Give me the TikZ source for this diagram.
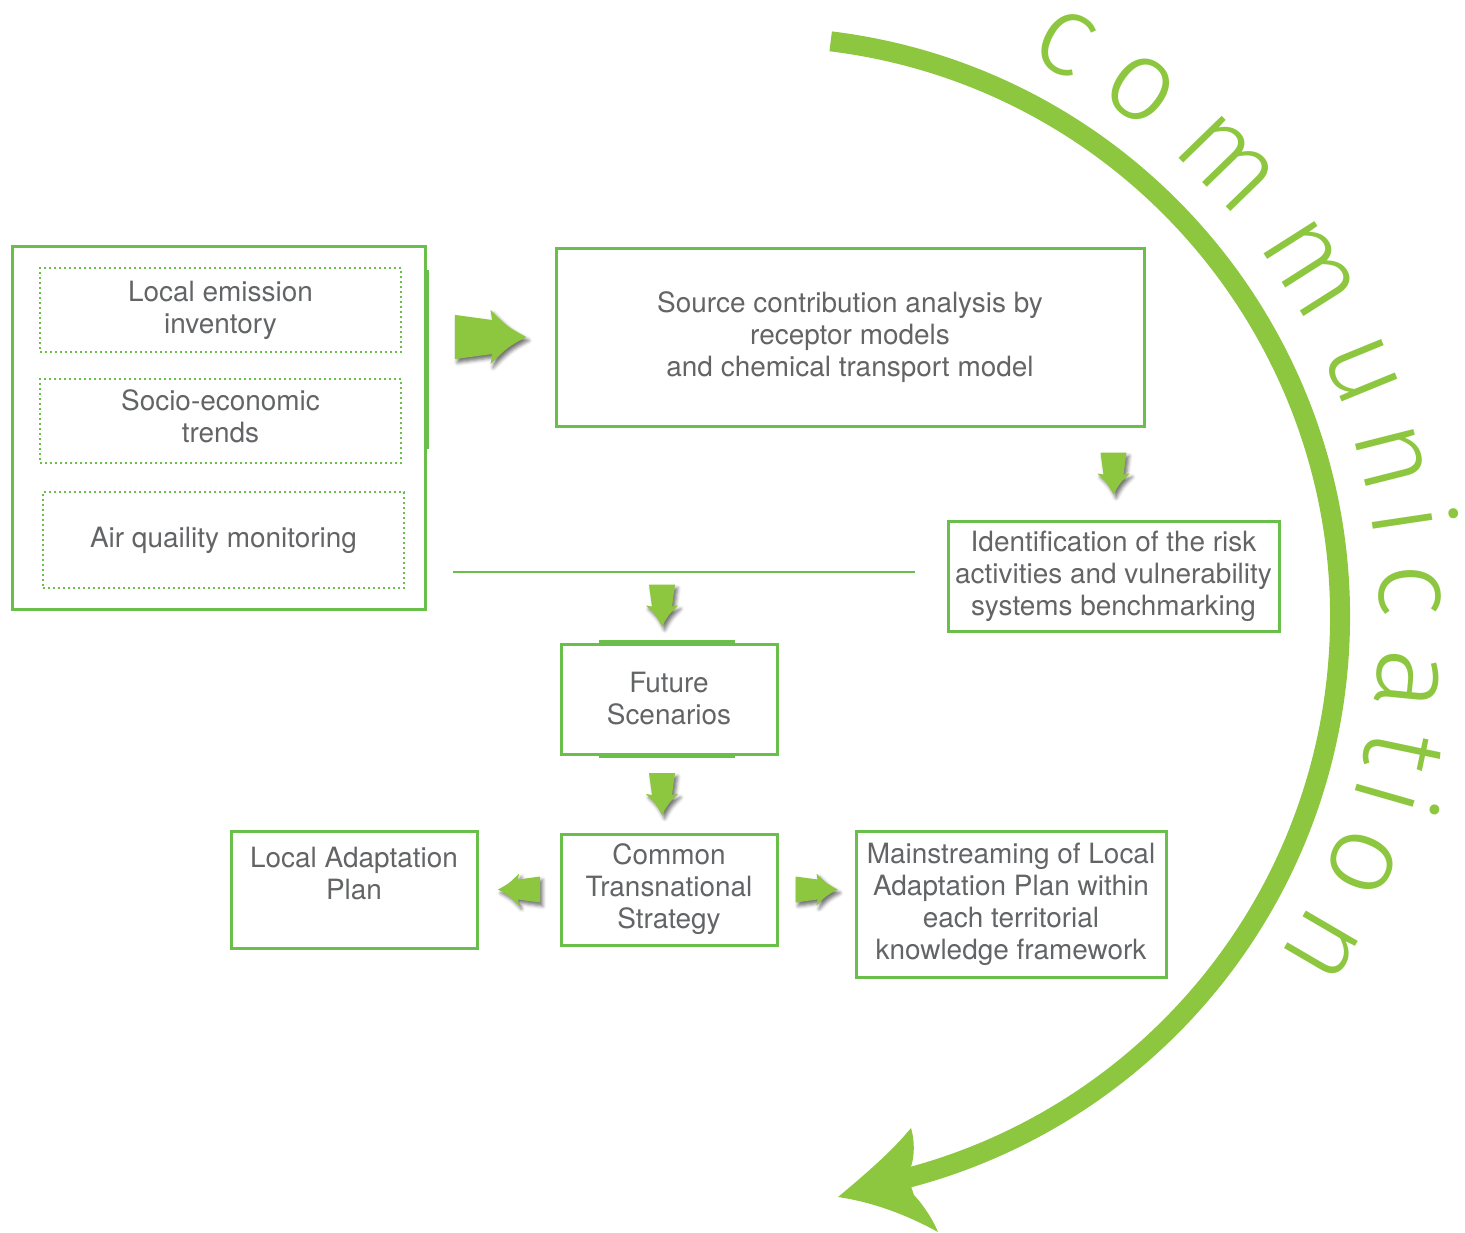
\documentclass[tikz,border=0pt]{standalone}
\usepackage{fontspec}
\setmainfont{TeX Gyre Heros}
\newfontfamily\commfont{Fira Sans Light}
\usetikzlibrary{positioning, calc, shadows.blur}
\definecolor{boxgreen}{HTML}{6ABF4B}
\definecolor{arcgreen}{HTML}{8DC63F}
\definecolor{textgray}{HTML}{636466}
\tikzset{
    x=0.2mm, y=-0.2mm, % one unit = one pixel, y grows downwards
    every node/.style={text=textgray, align=center,
        font=\fontsize{15.9pt}{18.2pt}\selectfont}, % grey Helvetica-like labels
    boxsize/.style 2 args={minimum width=#1*0.2mm, minimum height=#2*0.2mm},
    box/.style={draw=boxgreen, line width=0.6mm, inner sep=0pt}, % solid frames
    dotbox/.style={draw=boxgreen, line width=0.4mm,
        dash pattern=on 0.4mm off 0.6mm, inner sep=0pt}, % dotted frames
    heavy/.style={boxgreen, line width=1mm}, % thicker bits of some frames
    commletter/.style={text=arcgreen, anchor=base, inner sep=0pt,
        font=\commfont\fontsize{65.5pt}{65.5pt}\selectfont}, % big letters round the arc
    arrowshade/.style={blur shadow={shadow xshift=1.5pt, shadow yshift=-2pt,
        shadow blur radius=2pt, shadow opacity=55}},
    pics/blockarrow/.style={code={ % fat arrow, centred, pointing right
        \fill[arcgreen, arrowshade] (-21,-13) -- (1,-10) -- (0,-16)
            .. controls (10,-6) .. (21,0) .. controls (10,6) .. (0,16)
            -- (1,10) -- (-21,13) -- cycle;
    }},
}

\begin{document}
\begin{tikzpicture}
    \useasboundingbox (0,0) rectangle (1465,1232);

    \node[box, boxsize={413}{363}] (inputs) at (218.5,427.5) {};
    \node[dotbox, boxsize={361}{84}] (inv) at (220.5,310) {Local emission\\inventory};
    \node[dotbox, boxsize={361}{84}, below=5mm of inv] (socio) {Socio-economic\\trends\strut};
    \node[dotbox, boxsize={361}{96}] (air) at (223.5,540) {Air quaility monitoring};

    \node[box, boxsize={588}{178}] (src) at (850,337)
        {Source contribution analysis by\\receptor models\\and chemical transport model};
    \node[box, boxsize={331}{110}] (risk) at (1113.5,576)
        {Identification of the risk\\activities and vulnerability\\systems benchmarking};
    \node[box, boxsize={216}{110}] (future) at (669,699) {Future\\Scenarios};
    \node[box, boxsize={216}{111}, below=15.4mm of future] (cts)
        {Common\\Transnational\\Strategy};
    \node[box, boxsize={246}{117}] (lap) at (354,889.5) {Local Adaptation\\Plan\\\mbox{}};
    \node[box, boxsize={310}{146}] (main) at (1011,904)
        {Mainstreaming of Local\\Adaptation Plan within\\each territorial\\knowledge framework};

    \draw[heavy] ($(inputs.north east)!0.07!(inputs.south east)$)
        -- ($(inputs.north east)!0.56!(inputs.south east)$);
    \draw[heavy] ($(future.north west)!0.18!(future.north east)$)
        -- ($(future.north west)!0.8!(future.north east)$);
    \draw[heavy] ($(future.south west)!0.18!(future.south east)$)
        -- ($(future.south west)!0.8!(future.south east)$);

    \coordinate (splitL) at (453,572);
    \coordinate (splitR) at (915,572);
    \draw[boxgreen, line width=0.4mm] (splitL) -- (splitR);

    \pic[scale=1.7] at ($(inputs.east |- src.west)!0.5!(src.west)$) {blockarrow};
    \pic[rotate=-90] at ($(src.south -| risk.north)!0.5!(risk.north)$) {blockarrow};
    \pic[rotate=-90] at ($(future.north)+(-7,-37)$) {blockarrow};
    \pic[rotate=-90] at ($(future.south)!0.5!(cts.north)+(-7,0)$) {blockarrow};
    \pic[rotate=180] at ($(lap.east)!0.5!(cts.west)$) {blockarrow};
    \pic at ($(cts.east)!0.5!(main.west |- cts.east)$) {blockarrow};

    \coordinate (hub) at (760,617);
    \draw[arcgreen, line width=4mm] (hub) ++(-83:580)
        arc[start angle=-83, end angle=76, radius=580];
    \fill[arcgreen] (838,1197) .. controls (868,1172) and (893,1150) .. (911,1128)
        .. controls (916,1145) and (914,1165) .. (907,1175) -- (914,1195)
        .. controls (925,1207) and (933,1220) .. (938,1232)
        .. controls (905,1214) and (872,1202) .. (838,1197) -- cycle;
    \foreach \ch/\ang [count=\k] in {c/-62.1, o/-54.2, m/-44.2, m/-32.4, u/-22.2,
            n/-14.2, i/-8.5, c/-2.4, a/5.6, t/11.9, i/16.0, o/22.2, n/30.3}
        \node[commletter, rotate={-90-(\ang)}] (comm\k) at ($(hub)+(\ang:620)$) {\ch};
\end{tikzpicture}
\end{document}
